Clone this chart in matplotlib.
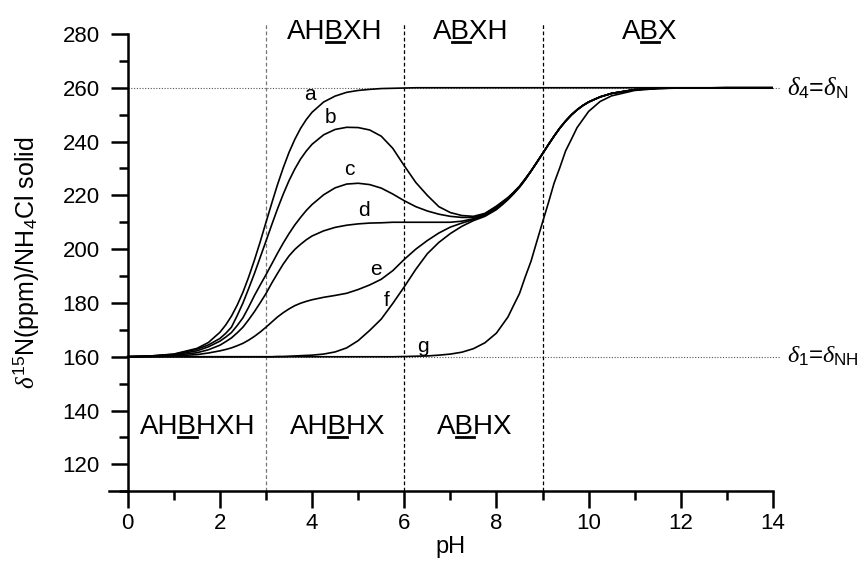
import matplotlib
matplotlib.use("Agg")
import matplotlib.pyplot as plt
from matplotlib.lines import Line2D
from matplotlib.ticker import MultipleLocator

plt.rcParams['font.family'] = ['Liberation Sans', 'DejaVu Sans']
plt.rcParams['mathtext.fontset'] = 'custom'
plt.rcParams['mathtext.rm'] = 'Liberation Sans'
plt.rcParams['mathtext.it'] = 'Liberation Serif:italic'
plt.rcParams['mathtext.bf'] = 'Liberation Sans:bold'

# pH grid shared by all curves (finer where the curves are steep)
ph = [0.0, 0.5, 1.0, 1.5, 1.75, 2.0,
      2.125, 2.25, 2.375, 2.5, 2.625, 2.75, 2.875, 3.0, 3.125, 3.25, 3.375, 3.5, 3.625, 3.75, 3.875, 4.0,
      4.25, 4.5, 4.75, 5.0, 5.25, 5.5, 5.75, 6.0, 6.25, 6.5, 6.75, 7.0, 7.25, 7.5, 7.75, 8.0,
      8.125, 8.25, 8.375, 8.5, 8.625, 8.75, 8.875, 9.0, 9.125, 9.25, 9.375, 9.5, 9.625, 9.75, 9.875,
      10.0, 10.25, 10.5, 11.0, 11.5, 12.0, 13.0, 14.0]

# chemical shift (ppm) of each curve on that grid
curve_a = [160.1, 160.3, 161.0, 163.1, 165.3, 169.1,
           171.8, 175.1, 179.2, 184.0, 189.7, 196.0, 202.8, 210.0, 217.1, 224.0, 230.3, 236.0, 240.8, 244.9, 248.2, 250.9,
           254.7, 256.9, 258.3, 259.0, 259.4, 259.7, 259.8, 259.9, 260.0, 260.0, 260.0, 260.0, 260.0, 260.0, 260.0, 260.0,
           260.0, 260.0, 260.0, 260.0, 260.0, 260.0, 260.0, 260.0, 260.0, 260.0, 260.0, 260.0, 260.0, 260.0, 260.0,
           260.0, 260.0, 260.0, 260.0, 260.0, 260.0, 260.0, 260.0]
curve_b = [160.0, 160.3, 160.9, 162.8, 164.4, 166.8,
           168.7, 171.0, 175.3, 180.0, 185.4, 191.0, 197.0, 203.0, 209.1, 215.0, 220.5, 225.5, 229.8, 233.5, 236.5, 239.0,
           242.5, 244.5, 245.3, 245.2, 244.3, 242.0, 237.5, 231.0, 224.8, 220.0, 215.8, 213.6, 212.5, 212.2, 213.3, 216.0,
           217.6, 219.2, 221.2, 223.4, 226.2, 229.1, 232.3, 235.5, 238.8, 242.0, 245.0, 247.6, 249.9, 251.8, 253.4,
           254.7, 256.6, 257.9, 259.3, 259.8, 259.9, 260.0, 260.0]
curve_c = [160.0, 160.2, 160.7, 162.2, 163.7, 165.8,
           167.3, 169.0, 171.6, 174.5, 178.5, 182.8, 186.7, 190.5, 194.5, 198.5, 202.3, 205.8, 209.0, 211.8, 214.4, 216.6,
           220.2, 222.8, 224.2, 224.5, 224.0, 222.7, 220.5, 218.0, 215.8, 214.2, 213.0, 212.2, 211.8, 211.8, 213.1, 215.8,
           217.4, 219.0, 221.1, 223.3, 226.1, 229.0, 232.2, 235.5, 238.8, 242.0, 245.0, 247.6, 249.9, 251.8, 253.4,
           254.7, 256.6, 257.9, 259.3, 259.8, 259.9, 260.0, 260.0]
curve_d = [160.0, 160.2, 160.5, 161.5, 162.6, 164.3,
           165.6, 167.0, 168.9, 171.0, 173.8, 176.8, 180.1, 183.5, 187.4, 191.0, 194.5, 197.5, 199.9, 201.8, 203.5, 204.9,
           206.8, 208.1, 208.9, 209.4, 209.7, 209.8, 210.0, 210.0, 210.0, 210.0, 210.0, 210.0, 210.4, 211.3, 212.8, 215.4,
           217.0, 218.8, 220.9, 223.2, 226.0, 229.0, 232.2, 235.5, 238.8, 242.0, 245.0, 247.6, 249.9, 251.8, 253.4,
           254.7, 256.6, 257.9, 259.3, 259.8, 259.9, 260.0, 260.0]
curve_e = [160.0, 160.1, 160.3, 160.8, 161.4, 162.2,
           162.7, 163.3, 164.1, 165.0, 166.2, 167.6, 169.2, 171.0, 172.9, 174.8, 176.4, 177.8, 179.0, 179.9, 180.6, 181.2,
           182.1, 182.8, 183.6, 185.0, 186.7, 188.8, 192.0, 196.2, 200.0, 203.2, 206.0, 208.2, 209.7, 211.0, 212.5, 215.0,
           216.7, 218.6, 220.8, 223.1, 225.9, 229.0, 232.2, 235.5, 238.8, 242.0, 245.0, 247.6, 249.9, 251.8, 253.4,
           254.7, 256.6, 257.9, 259.3, 259.8, 259.9, 260.0, 260.0]
curve_f = [160.0, 160.0, 160.0, 160.0, 160.0, 160.0,
           160.0, 160.0, 160.0, 160.0, 160.0, 160.0, 160.0, 160.0, 160.0, 160.1, 160.1, 160.2, 160.3, 160.4, 160.5, 160.6,
           161.0, 161.8, 163.3, 166.0, 169.8, 174.0, 179.8, 186.0, 192.5, 198.3, 202.5, 205.8, 208.5, 210.6, 212.2, 214.7,
           216.5, 218.4, 220.6, 223.0, 225.8, 229.0, 232.2, 235.5, 238.8, 242.0, 245.0, 247.6, 249.9, 251.8, 253.4,
           254.7, 256.6, 257.9, 259.3, 259.8, 259.9, 260.0, 260.0]
curve_g = [160.0, 160.0, 160.0, 160.0, 160.0, 160.0,
           160.0, 160.0, 160.0, 160.0, 160.0, 160.0, 160.0, 160.0, 160.0, 160.0, 160.0, 160.0, 160.0, 160.0, 160.0, 160.0,
           160.0, 160.0, 160.0, 160.0, 160.0, 160.0, 160.0, 160.1, 160.2, 160.3, 160.6, 161.0, 161.7, 163.0, 165.2, 168.8,
           171.8, 174.8, 179.2, 183.5, 189.7, 195.5, 202.8, 210.0, 217.1, 224.5, 230.3, 236.5, 240.8, 245.2, 248.2,
           251.2, 254.9, 257.0, 259.0, 259.7, 259.9, 260.0, 260.0]
curves = [curve_a, curve_b, curve_c, curve_d, curve_e, curve_f, curve_g]

curve_names = ['a', 'b', 'c', 'd', 'e', 'f', 'g']
name_x = [3.96, 4.39, 4.80, 5.13, 5.39, 5.62, 6.41]
name_y = [257.6, 249.0, 229.5, 214.3, 192.6, 180.9, 163.8]

boundaries = [3, 6, 9]
boundary_colors = ['#777777', 'black', 'black']
shift_high = 260
shift_low = 160

top_species = ['AHBXH', 'ABXH', 'ABX']
top_x = [4.50, 7.45, 11.33]
top_under = [2, 1, 1]
bottom_species = ['AHBHXH', 'AHBHX', 'ABHX']
bottom_x = [1.51, 4.55, 7.53]
bottom_under = [2, 2, 1]

fig = plt.figure(figsize=(8.6, 5.63), dpi=100)
ax = fig.add_axes([0.1271, 0.1274, 0.7717, 0.8123])
ax.set_xlim(-0.4, 14)
ax.set_ylim(110, 280)

# limiting shifts
for yv in (shift_high, shift_low):
    ax.plot([0, 14.15], [yv, yv], ls=(0, (1, 1.5)), color='#555555', lw=0.8, clip_on=False, zorder=1)

# species boundaries
for xb, col in zip(boundaries, boundary_colors):
    ax.plot([xb, xb], [110, 284], ls=(0, (3, 2)), color=col, lw=0.9, clip_on=False, zorder=1)

for ys in curves:
    ax.plot(ph, ys, color='black', lw=1.2, zorder=3)

for nm, x, y in zip(curve_names, name_x, name_y):
    ax.text(x, y, nm, fontsize=15, ha='center', va='center')

ax.text(14.3, shift_high, r'$\delta_4$=$\delta_{\mathrm{N}}$', fontsize=18, va='center', ha='left')
ax.text(14.3, shift_low, r'$\delta_1$=$\delta_{\mathrm{NH}}$', fontsize=17.5, va='center', ha='left')

species_texts = []
for s, x, i in zip(top_species, top_x, top_under):
    t = ax.text(x, 278.1, s, fontsize=20, ha='center', va='baseline')
    species_texts.append((t, s, i))
for s, x, i in zip(bottom_species, bottom_x, bottom_under):
    t = ax.text(x, 131.3, s, fontsize=20, ha='center', va='baseline')
    species_texts.append((t, s, i))

# axes styling
for side in ('top', 'right'):
    ax.spines[side].set_visible(False)
ax.spines['left'].set_position(('data', 0))
ax.spines['left'].set_bounds(110, 280)
for side in ('left', 'bottom'):
    ax.spines[side].set_linewidth(1.8)

ax.xaxis.set_minor_locator(MultipleLocator(1))
ax.yaxis.set_minor_locator(MultipleLocator(10))
ax.set_xticks(range(0, 15, 2))
ax.set_yticks(range(120, 281, 20))
ax.tick_params(which='major', direction='out', length=12, width=1.8, labelsize=16, pad=4)
ax.tick_params(which='minor', direction='out', length=6.5, width=1.8)
ax.tick_params(axis='y', which='major', pad=8)

ax.set_xlabel('pH', fontsize=17)
ax.set_ylabel(r'$\delta^{15}$N(ppm)/NH$_4$Cl solid', fontsize=18)
ax.xaxis.set_label_coords(0.514, -0.097)
ax.yaxis.set_label_coords(-0.103, 0.5)

# underline the nitrogen site in each species name
fig.canvas.draw()
renderer = fig.canvas.get_renderer()
to_fig = fig.transFigure.inverted()
for t, s, i in species_texts:
    bb = t.get_window_extent(renderer)
    fp = t.get_fontproperties()
    w0 = renderer.get_text_width_height_descent(s[:i], fp, ismath=False)[0] if i > 0 else 0
    w1 = renderer.get_text_width_height_descent(s[:i + 1], fp, ismath=False)[0]
    base = ax.transData.transform(t.get_position())[1]
    yu = base - 2.8
    p0 = to_fig.transform((bb.x0 + w0, yu))
    p1 = to_fig.transform((bb.x0 + w1, yu))
    fig.add_artist(Line2D([p0[0], p1[0]], [p0[1], p1[1]], color='black', lw=2.0))

fig.savefig('out.png', dpi=100)
